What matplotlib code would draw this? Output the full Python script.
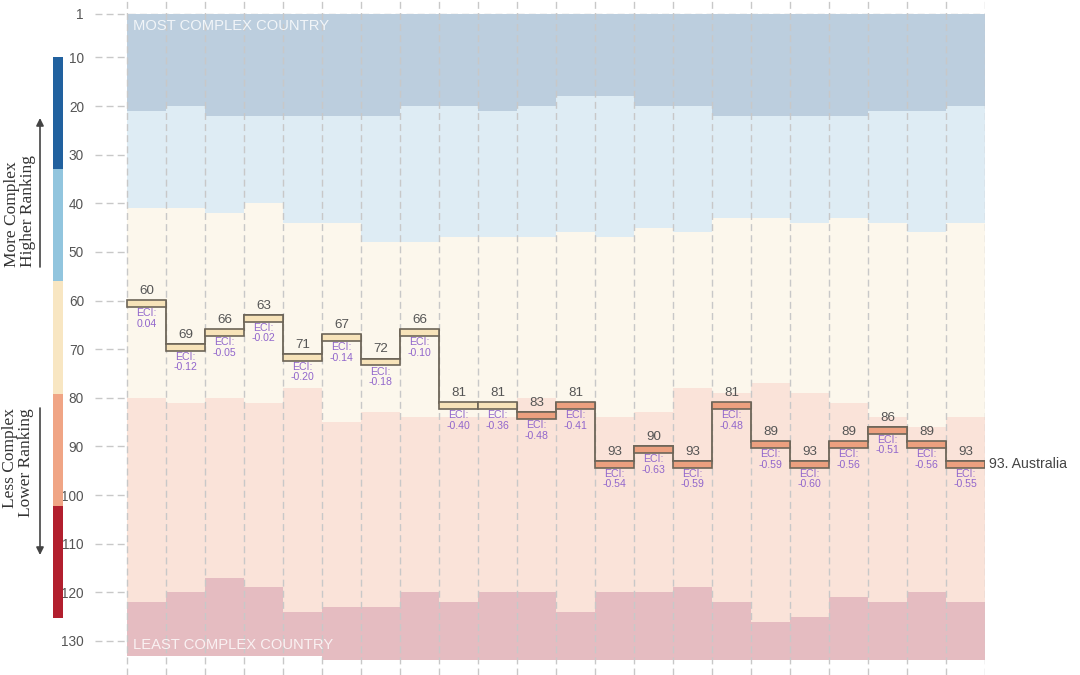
import numpy as np
import matplotlib.pyplot as plt
from matplotlib.patches import Rectangle

plt.rcParams['font.family'] = ['Liberation Sans', 'DejaVu Sans']

# ranking bands per year (rank where each band starts), 22 columns
band_top = [1] * 22
band_b1 = [21, 20, 22, 22, 22, 22, 22, 20, 20, 21, 20, 18, 18, 20, 20, 22, 22, 22, 22, 21, 21, 20]
band_b2 = [41, 41, 42, 40, 44, 44, 48, 48, 47, 47, 47, 46, 47, 45, 46, 43, 43, 44, 43, 44, 46, 44]
band_b3 = [80, 81, 80, 81, 78, 85, 83, 84, 84, 84, 80, 81, 84, 83, 78, 79, 77, 79, 81, 84, 86, 84]
band_b4 = [122, 120, 117, 119, 124, 123, 123, 120, 122, 120, 120, 124, 120, 120, 119, 122, 126, 125, 121, 122, 120, 122]
band_bottom = [133] * 5 + [134] * 17

# Australia
aus_rank = [60, 69, 66, 63, 71, 67, 72, 66, 81, 81, 83, 81, 93, 90, 93, 81, 89, 93, 89, 86, 89, 93]
aus_eci = [0.04, -0.12, -0.05, -0.02, -0.20, -0.14, -0.18, -0.10, -0.40, -0.36, -0.48, -0.41,
           -0.54, -0.63, -0.59, -0.48, -0.59, -0.60, -0.56, -0.51, -0.56, -0.55]
country = 'Australia'

yticks = [1, 10, 20, 30, 40, 50, 60, 70, 80, 90, 100, 110, 120, 130]

band_colors = ['#bccede', '#deecf4', '#fcf7ec', '#fae3d9', '#e5bcc1']
scale_colors = ['#21619f', '#92c5de', '#f8e6c2', '#f0a585', '#b21f2e']
marker_beige = '#f7e3b9'
marker_salmon = '#eca07f'
edge_col = '#6d6558'
eci_col = '#9166cc'
grid_col = '#c8c8c8'

n = len(aus_rank)
fig = plt.figure(figsize=(10.8, 6.75), dpi=100)
ax = fig.add_axes([95 / 1080, 0, 890 / 1080, 1])

x = np.arange(n)
bounds = [band_top, band_b1, band_b2, band_b3, band_b4, band_bottom]
for k in range(5):
    lo = np.array(bounds[k])
    hi = np.array(bounds[k + 1])
    ax.bar(x, hi - lo, bottom=lo, width=1, align='edge', color=band_colors[k],
           linewidth=0, zorder=2)

# vertical dashed separators
for xe in range(n + 1):
    ax.axvline(xe, color=grid_col, lw=1, ls=(0, (5, 3)), zorder=3)

ax.set_yticks(yticks)
ax.yaxis.grid(True, color=grid_col, lw=1, ls=(0, (5, 3)), zorder=0)
ax.set_axisbelow(True)
ax.tick_params(axis='y', length=0, pad=8, labelsize=9.8, labelcolor='#555555')
ax.tick_params(axis='x', length=0, labelbottom=False)
for s in ax.spines.values():
    s.set_visible(False)

# ranking step line
ax.stairs(aus_rank, np.arange(n + 1), baseline=None, color=edge_col, lw=1.3, zorder=4)
for i, (r, e) in enumerate(zip(aus_rank, aus_eci)):
    fc = marker_salmon if r >= band_b3[i] else marker_beige
    ax.add_patch(Rectangle((i, r - 0.05), 1, 1.4, facecolor=fc, edgecolor=edge_col,
                           lw=1.2, zorder=5))
    ax.text(i + 0.5, r - 0.7, str(r), ha='center', va='bottom', fontsize=9.6,
            color='#555555', zorder=6)
    ax.text(i + 0.5, r + 1.6, f'ECI:\n{e:.2f}', ha='center', va='top', fontsize=7.6,
            color=eci_col, linespacing=1.05, zorder=6)

ax.text(n + 0.1, aus_rank[-1] + 0.6, f'{aus_rank[-1]}. {country}', ha='left', va='center',
        fontsize=10.2, color='#444444', clip_on=False, zorder=6)

ax.text(0.15, 3.5, 'MOST COMPLEX COUNTRY', color='white', alpha=0.8, fontsize=10.6,
        va='center', ha='left', zorder=6)
ax.text(0.15, 130.9, 'LEAST COMPLEX COUNTRY', color='white', alpha=0.8, fontsize=10.6,
        va='center', ha='left', zorder=6)

ax.set_xlim(-32 / 39, n)
ax.set_ylim(137.0, -1.8)

# left scale and arrows (pixel coords)
axl = fig.add_axes([0, 0, 95 / 1080, 1])
axl.set_xlim(0, 95)
axl.set_ylim(675, 0)
axl.axis('off')
seg = (618 - 57) / 5
for k in range(5):
    axl.add_patch(Rectangle((53, 57 + k * seg), 10, seg, facecolor=scale_colors[k], lw=0))

axl.annotate('', xy=(40, 118), xytext=(40, 267),
             arrowprops=dict(arrowstyle='-|>', color='#444444', lw=1.2,
                             mutation_scale=11, shrinkA=0, shrinkB=0))
axl.annotate('', xy=(40, 555), xytext=(40, 408),
             arrowprops=dict(arrowstyle='-|>', color='#444444', lw=1.2,
                             mutation_scale=11, shrinkA=0, shrinkB=0))
axl.text(20, 267, 'More Complex\nHigher Ranking', rotation=90, ha='center', va='bottom',
         multialignment='left', family='Liberation Serif', fontsize=12.5,
         color='#333333', linespacing=1.0)
axl.text(18, 408, 'Less Complex\nLower Ranking', rotation=90, ha='center', va='top',
         multialignment='right', family='Liberation Serif', fontsize=12.5,
         color='#333333', linespacing=1.0)

fig.savefig('out.png', dpi=100)
